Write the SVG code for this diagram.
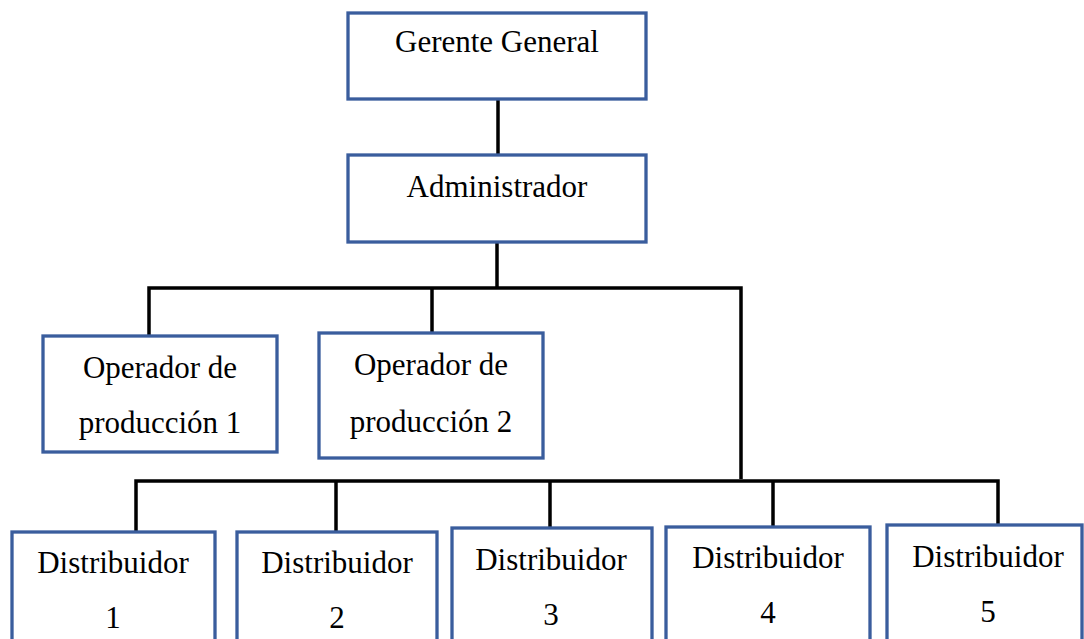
<svg xmlns="http://www.w3.org/2000/svg" width="1084" height="639" viewBox="0 0 1084 639">
<style>
.box{fill:#fff;stroke:#3A5D9D;stroke-width:3.3}
.ln{fill:none;stroke:#000;stroke-width:3.5;stroke-linecap:butt}
.t{font-family:'Liberation Serif','Times New Roman',Tinos,Times,serif;font-size:31px;fill:#000;text-anchor:middle}
</style>
<rect width="1084" height="639" fill="#fff"/>
<g id="connectors">
<path class="ln" d="M498 99V155"/>
<path class="ln" d="M497 242V288"/>
<path class="ln" d="M149 336V288H741V479"/>
<path class="ln" d="M432 288V333"/>
<path class="ln" d="M136 532V481H998V525"/>
<path class="ln" d="M336 481V532"/>
<path class="ln" d="M550 481V528"/>
<path class="ln" d="M773 481V527"/>
</g>
<g id="gerente">
<rect class="box" x="348" y="13" width="298" height="86"/>
<text class="t" x="497" y="52">Gerente General</text>
</g>
<g id="administrador">
<rect class="box" x="348" y="155" width="298" height="87"/>
<text class="t" x="497" y="197">Administrador</text>
</g>
<g id="operador1">
<rect class="box" x="43" y="336" width="234" height="116"/>
<text class="t" x="160" y="378">Operador de</text>
<text class="t" x="160" y="433">producción 1</text>
</g>
<g id="operador2">
<rect class="box" x="319" y="333" width="224" height="125"/>
<text class="t" x="431" y="375">Operador de</text>
<text class="t" x="431" y="432">producción 2</text>
</g>
<g id="distribuidor1">
<rect class="box" x="12" y="532" width="203" height="130"/>
<text class="t" x="113" y="573">Distribuidor</text>
<text class="t" x="113" y="628">1</text>
</g>
<g id="distribuidor2">
<rect class="box" x="237" y="532" width="200" height="130"/>
<text class="t" x="337" y="573">Distribuidor</text>
<text class="t" x="337" y="628">2</text>
</g>
<g id="distribuidor3">
<rect class="box" x="452" y="528" width="200" height="130"/>
<text class="t" x="551" y="570">Distribuidor</text>
<text class="t" x="551" y="625">3</text>
</g>
<g id="distribuidor4">
<rect class="box" x="666" y="527" width="204" height="130"/>
<text class="t" x="768" y="568">Distribuidor</text>
<text class="t" x="768" y="623">4</text>
</g>
<g id="distribuidor5">
<rect class="box" x="887" y="525" width="195" height="130"/>
<text class="t" x="988" y="567">Distribuidor</text>
<text class="t" x="988" y="622">5</text>
</g>
</svg>
